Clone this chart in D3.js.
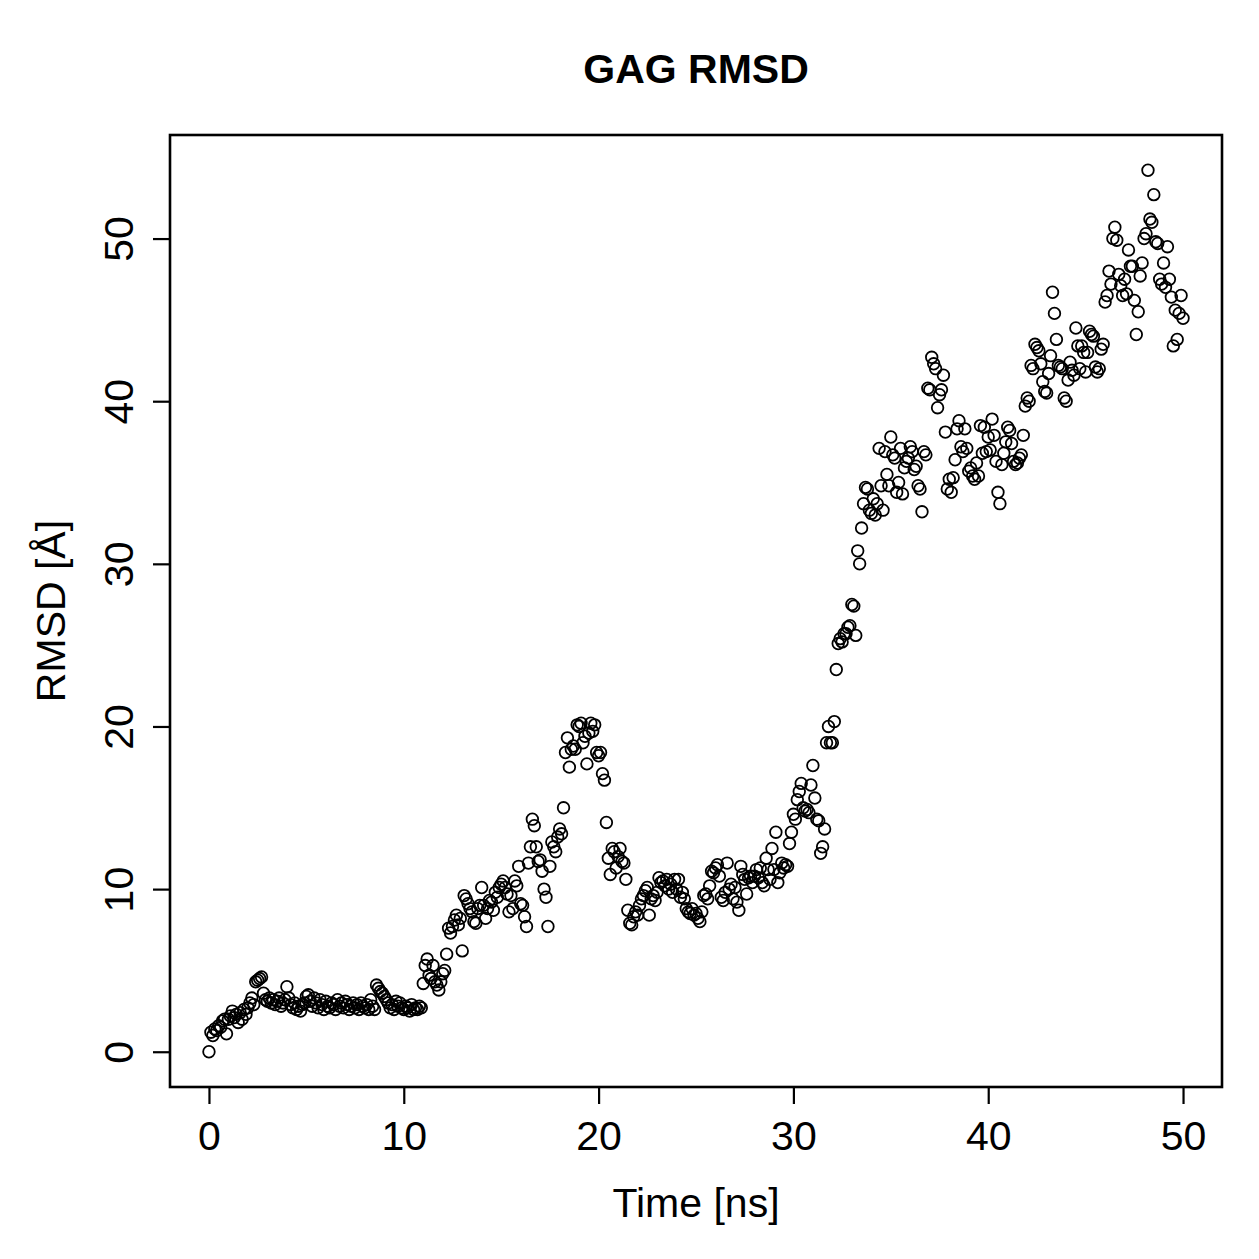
<!DOCTYPE html>
<html>
<head>
<meta charset="utf-8">
<script src="https://cdn.jsdelivr.net/npm/d3@7"></script>
<style>
  body { margin: 0; background: #fff; }
  text { font-family: "Liberation Sans", Arial, Helvetica, sans-serif; fill: #000; }
</style>
</head>
<body>
<div id="chart"></div>
<script>
// RMSD values, one per 0.1 ns, grouped by whole ns (t = k .. k+0.9)
const rmsd0to9 = [
  0.0, 1.2, 1.0, 1.4, 1.3, 1.6, 1.5, 1.9, 2.0, 1.1,
  2.0, 2.2, 2.5, 2.1, 2.3, 1.8, 2.4, 2.0, 2.6, 2.3,
  2.7, 3.0, 3.3, 2.9, 4.3, 4.4, 4.5, 4.6, 3.6, 3.2,
  3.1, 3.3, 3.0, 3.2, 2.9, 3.1, 3.3, 2.8, 3.0, 3.2,
  4.0, 3.3, 2.9, 2.7, 3.0, 2.6, 2.8, 2.5, 2.9, 3.0,
  3.4, 3.5, 3.1, 2.8, 3.3, 3.0, 2.7, 3.2, 2.9, 2.6,
  3.1, 2.8, 2.7, 3.0, 2.9, 2.6, 3.2, 2.8, 3.0, 2.7,
  3.1, 2.9, 2.6, 2.8, 3.0, 2.7, 2.9, 2.6, 3.0, 2.8,
  2.7, 2.9, 2.6, 3.2, 2.8, 2.6, 4.1, 3.9, 3.7, 3.6,
  3.4, 3.2, 3.0, 2.7, 2.9, 2.6, 3.1, 2.8, 3.0, 2.7
];
const rmsd10to19 = [
  2.6, 2.8, 2.7, 2.5, 2.9, 2.6, 2.7, 2.6, 2.8, 2.7,
  4.2, 5.3, 5.7, 4.7, 4.5, 5.3, 4.3, 4.1, 3.8, 4.3,
  4.8, 5.0, 6.0, 7.6, 7.3, 7.7, 8.1, 8.4, 7.8, 8.2,
  6.2, 9.6, 9.4, 9.1, 8.8, 8.6, 8.0, 7.9, 8.8, 9.0,
  10.1, 9.0, 8.2, 8.8, 9.3, 9.2, 8.7, 9.8, 9.5, 10.1,
  10.3, 10.5, 10.1, 9.7, 8.6, 9.6, 8.8, 10.5, 10.2, 11.4,
  9.1, 9.0, 8.3, 7.7, 11.6, 12.6, 14.3, 13.9, 12.6, 11.7,
  11.8, 11.1, 10.0, 9.5, 7.7, 11.4, 12.9, 12.6, 12.3, 13.2,
  13.7, 13.4, 15.0, 18.4, 19.3, 17.5, 18.6, 18.8, 18.6, 20.1,
  20.0, 20.2, 19.0, 19.4, 17.7, 19.6, 20.2, 19.7, 20.1, 18.4
];
const rmsd20to29 = [
  18.2, 18.4, 17.1, 16.7, 14.1, 11.9, 10.9, 12.5, 12.3, 11.3,
  12.0, 12.5, 11.7, 11.6, 10.6, 8.7, 7.9, 7.8, 8.3, 8.6,
  8.4, 9.0, 9.4, 9.6, 9.9, 10.1, 8.4, 9.4, 9.6, 9.3,
  9.8, 10.7, 10.4, 10.5, 10.2, 10.6, 10.0, 10.3, 9.8, 10.6,
  10.0, 10.6, 9.5, 9.8, 9.4, 8.8, 8.6, 8.5, 8.8, 8.4,
  8.5, 8.2, 8.0, 8.6, 9.6, 9.7, 9.4, 10.2, 11.1, 11.0,
  11.3, 11.5, 10.8, 9.5, 9.3, 9.8, 11.6, 10.0, 10.3, 9.4,
  10.1, 9.2, 8.7, 11.4, 10.9, 10.6, 9.7, 10.7, 10.8, 10.4,
  10.8, 11.2, 10.7, 11.3, 10.4, 10.2, 11.9, 11.2, 10.6, 12.5,
  11.2, 13.5, 10.4, 11.0, 11.6, 11.3, 11.5, 11.4, 12.8, 13.5
];
const rmsd30to39 = [
  14.6, 14.3, 15.5, 16.0, 16.5, 15.0, 14.8, 14.9, 14.7, 16.4,
  17.6, 15.6, 14.3, 14.2, 12.2, 12.6, 13.7, 19.0, 20.0, 19.0,
  19.0, 20.3, 23.5, 25.1, 25.4, 25.2, 25.7, 25.7, 26.1, 26.2,
  27.5, 27.4, 25.6, 30.8, 30.0, 32.2, 33.7, 34.7, 34.6, 33.3,
  33.1, 34.0, 33.0, 33.7, 37.1, 34.8, 33.3, 36.9, 35.5, 34.8,
  37.8, 36.7, 36.5, 34.4, 35.0, 37.1, 34.3, 35.9, 36.3, 36.5,
  37.2, 36.9, 35.8, 36.0, 34.8, 34.6, 33.2, 36.9, 36.7, 40.8,
  40.7, 42.7, 42.3, 42.0, 39.6, 40.4, 40.7, 41.6, 38.1, 34.6,
  35.2, 34.4, 35.3, 36.4, 38.3, 38.8, 37.2, 36.9, 38.3, 37.1,
  35.7, 35.9, 35.4, 35.2, 36.2, 35.4, 38.5, 36.8, 38.4, 36.9
];
const rmsd40to50 = [
  37.8, 37.0, 38.9, 37.9, 36.3, 34.4, 33.7, 36.1, 36.8, 37.5,
  38.4, 38.2, 37.4, 36.3, 36.1, 36.2, 36.5, 36.7, 37.9, 39.7,
  40.2, 40.0, 42.2, 42.0, 43.5, 43.3, 43.1, 42.3, 41.2, 40.6,
  40.5, 41.7, 42.8, 46.7, 45.4, 43.8, 42.2, 42.1, 42.0, 40.2,
  40.0, 41.3, 42.4, 41.9, 41.6, 44.5, 43.4, 42.0, 43.4, 43.0,
  41.8, 43.0, 44.3, 44.1, 44.0, 42.1, 41.8, 42.0, 43.2, 43.5,
  46.1, 46.5, 48.0, 47.2, 50.0, 50.7, 49.9, 47.8, 47.1, 46.5,
  47.5, 46.6, 49.3, 48.3, 48.3, 46.2, 44.1, 45.5, 47.7, 48.5,
  50.0, 50.3, 54.2, 51.2, 51.0, 52.7, 49.8, 49.7, 47.5, 47.2,
  48.5, 47.0, 49.5, 47.5, 46.4, 43.4, 45.6, 43.8, 45.4, 46.5,
  45.1
];
const timeStep = 0.1; // ns
const xTicks = [0, 10, 20, 30, 40, 50];
const yTicks = [0, 10, 20, 30, 40, 50];

const rmsd = [].concat(rmsd0to9, rmsd10to19, rmsd20to29, rmsd30to39, rmsd40to50);
const data = rmsd.map((v, i) => ({ t: +(i * timeStep).toFixed(1), v: v }));

const width = 1259, height = 1259;
const box = { left: 170, right: 1222, top: 135, bottom: 1087 };
const fontSize = "41px";

const svg = d3.select("#chart").append("svg")
    .attr("width", width)
    .attr("height", height)
    .style("display", "block");

svg.append("rect").attr("width", width).attr("height", height).attr("fill", "#fff");

// R style: 4% padding around the data range
function pad(ext) {
    const d = (ext[1] - ext[0]) * 0.04;
    return [ext[0] - d, ext[1] + d];
}

const x = d3.scaleLinear()
    .domain(pad(d3.extent(data, d => d.t)))
    .range([box.left, box.right]);

const y = d3.scaleLinear()
    .domain(pad(d3.extent(data, d => d.v)))
    .range([box.bottom, box.top]);

// points
svg.append("g")
    .selectAll("circle")
    .data(data)
    .enter().append("circle")
    .attr("cx", d => x(d.t))
    .attr("cy", d => y(d.v))
    .attr("r", 5.8)
    .attr("fill", "none")
    .attr("stroke", "#000")
    .attr("stroke-width", 1.8);

// axes
const xAxis = svg.append("g")
    .attr("transform", `translate(0,${box.bottom})`)
    .call(d3.axisBottom(x).tickValues(xTicks).tickSize(17).tickPadding(17).tickFormat(d3.format("d")));

const yAxis = svg.append("g")
    .attr("transform", `translate(${box.left},0)`)
    .call(d3.axisLeft(y).tickValues(yTicks).tickSize(17).tickFormat(d3.format("d")));

[xAxis, yAxis].forEach(g => {
    g.select(".domain").remove();
    g.selectAll(".tick line").attr("stroke", "#000").attr("stroke-width", 2.2);
    g.selectAll(".tick text")
        .style("font-size", fontSize)
        .style("font-family", "\"Liberation Sans\", Arial, sans-serif")
        .attr("fill", "#000");
});

// y tick labels run bottom-to-top like R
yAxis.selectAll(".tick text")
    .attr("x", null).attr("dy", null)
    .attr("text-anchor", "middle")
    .attr("transform", "translate(-37,0) rotate(-90)");

// frame
svg.append("rect")
    .attr("x", box.left)
    .attr("y", box.top)
    .attr("width", box.right - box.left)
    .attr("height", box.bottom - box.top)
    .attr("fill", "none")
    .attr("stroke", "#000")
    .attr("stroke-width", 2.6);

// title and axis labels
svg.append("text")
    .attr("x", (box.left + box.right) / 2)
    .attr("y", 83)
    .attr("text-anchor", "middle")
    .style("font-size", fontSize)
    .style("font-weight", "bold")
    .text("GAG RMSD");

svg.append("text")
    .attr("x", (box.left + box.right) / 2)
    .attr("y", 1217)
    .attr("text-anchor", "middle")
    .style("font-size", fontSize)
    .text("Time [ns]");

svg.append("text")
    .attr("transform", `translate(65,${(box.top + box.bottom) / 2}) rotate(-90)`)
    .attr("text-anchor", "middle")
    .style("font-size", fontSize)
    .text("RMSD [Å]");
</script>
</body>
</html>
